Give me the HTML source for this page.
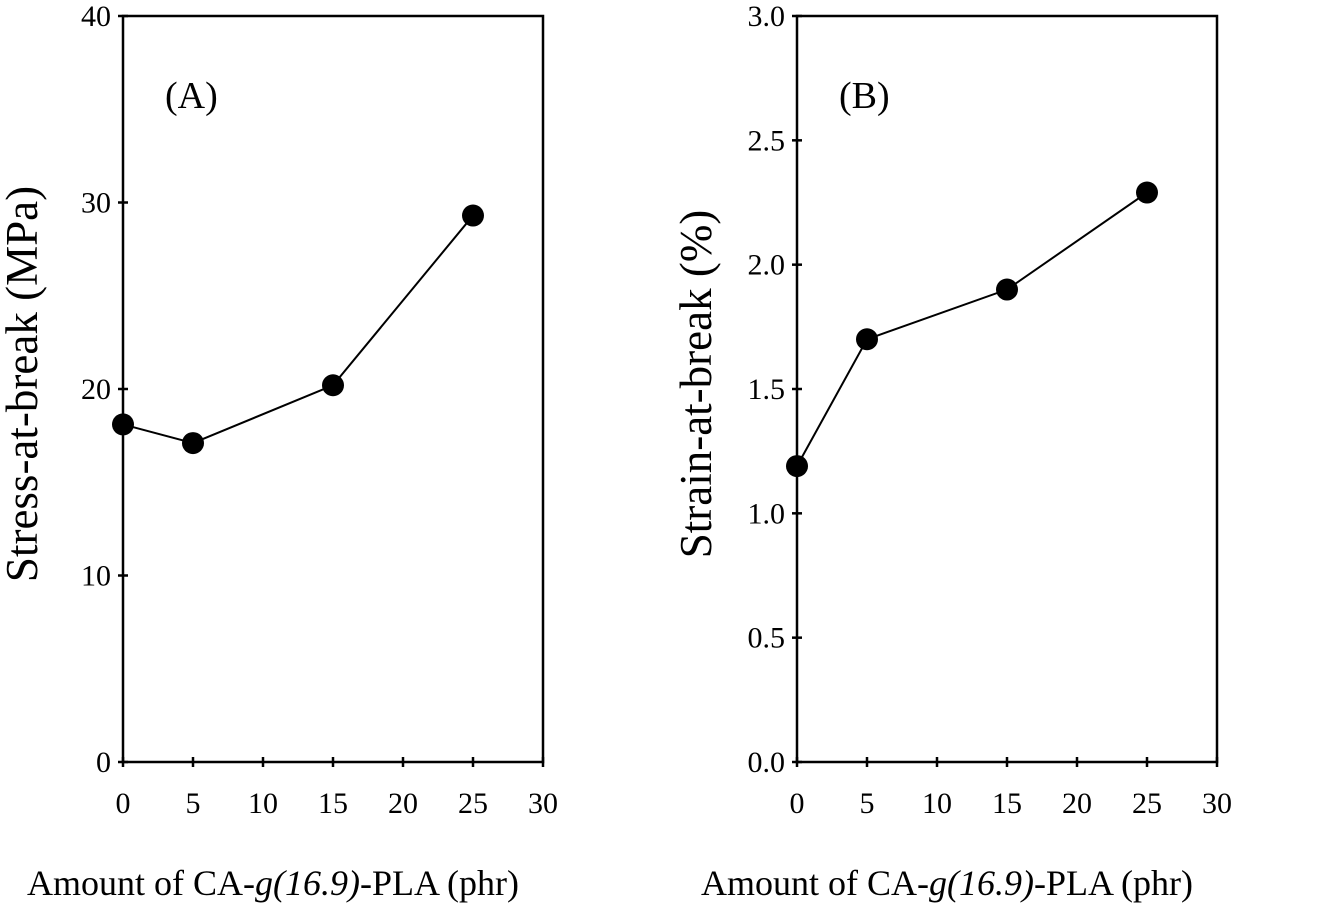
<!DOCTYPE html>
<html><head><meta charset="utf-8"><style>
html,body{margin:0;padding:0;background:#fff}
svg{display:block}
text{font-family:"Liberation Serif",serif;fill:#000}
</style></head><body>
<svg id="chart" width="1323" height="917" viewBox="0 0 1323 917"></svg>
<script>
const xCats=[0,5,15,25];
const stressVals=[18.1,17.1,20.2,29.3];
const strainVals=[1.19,1.70,1.90,2.29];
const xTicks=[0,5,10,15,20,25,30];
const yTicksA=[0,10,20,30,40];
const yTicksB=["0.0","0.5","1.0","1.5","2.0","2.5","3.0"];
const NS="http://www.w3.org/2000/svg";
const svg=document.getElementById('chart');
function mk(t,a,p){const e=document.createElementNS(NS,t);for(const k in a)e.setAttribute(k,a[k]);(p||svg).appendChild(e);return e;}
function panel(name,left,yMax,yTicks,vals,label,ytitle){
  const right=left+420,top=16,bottom=762;
  const g=mk('g',{});
  
  
  const xs=v=>left+(v/30)*(right-left);
  const ys=v=>bottom-(v/yMax)*(bottom-top);
  const box=mk('rect',{x:left,y:top,width:right-left,height:bottom-top,fill:'none',stroke:'#000','stroke-width':2.5},g);
  
  
  xTicks.forEach(t=>{
    const x=xs(t);
    mk('line',{x1:x,x2:x,y1:bottom-5,y2:bottom+5,stroke:'#000','stroke-width':2.5},g);
    const tx=mk('text',{x:x,y:bottom+51,'text-anchor':'middle','font-size':30},g);
    tx.textContent=t;
    
    
  });
  yTicks.forEach(t=>{
    const y=ys(parseFloat(t));
    mk('line',{x1:left-5,x2:left+5,y1:y,y2:y,stroke:'#000','stroke-width':2.5},g);
    const tx=mk('text',{x:left-12,y:y+10,'text-anchor':'end','font-size':30},g);
    tx.textContent=t;
    
    
  });
  const pts=xCats.map((c,i)=>xs(c)+','+ys(vals[i])).join(' ');
  const pl=mk('polyline',{points:pts,fill:'none',stroke:'#000','stroke-width':2},g);
  
  
  xCats.forEach((c,i)=>{
    const m=mk('circle',{cx:xs(c),cy:ys(vals[i]),r:11,fill:'#000'},g);
    
    
  });
  const pl2=mk('text',{x:left+42,y:108,'font-size':38},g);
  pl2.textContent=label;
  
  
  const yt=mk('text',{x:0,y:0,'font-size':45,'text-anchor':'middle',transform:`translate(${left-86},${(top+bottom)/2-5}) rotate(-90)`},g);
  yt.textContent=ytitle;
  
  
  const xt=mk('text',{x:left+150,y:895,'font-size':36,'text-anchor':'middle'},g);
  xt.innerHTML='Amount of CA-<tspan font-style="italic">g(16.9)</tspan>-PLA (phr)';
  
  
}
panel('panel-a-stress',123,40,yTicksA,stressVals,'(A)','Stress-at-break (MPa)');
panel('panel-b-strain',797,3,yTicksB,strainVals,'(B)','Strain-at-break (%)');
</script>
</body></html>
